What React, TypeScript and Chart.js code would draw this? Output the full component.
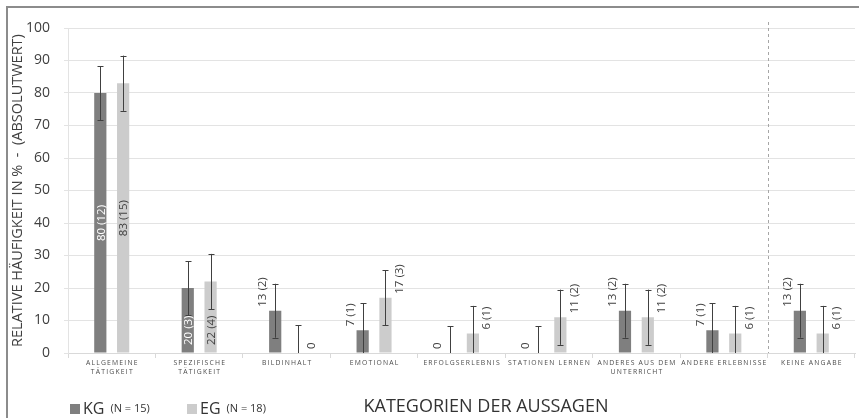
import React, { useEffect, useRef } from "react";
import { Chart, registerables } from "chart.js";

Chart.register(...registerables);

// Categories of the statements (multi-line labels as arrays)
const categories: string[][] = [
  ["ALLGEMEINE", "TÄTIGKEIT"],
  ["SPEZIFISCHE", "TÄTIGKEIT"],
  ["BILDINHALT"],
  ["EMOTIONAL"],
  ["ERFOLGSERLEBNIS"],
  ["STATIONEN LERNEN"],
  ["ANDERES AUS DEM", "UNTERRICHT"],
  ["ANDERE ERLEBNISSE"],
  ["KEINE ANGABE"],
];

// Relative frequency in % per group
const kgPercent = [80, 20, 13, 7, 0, 0, 13, 7, 13];
const egPercent = [83, 22, 0, 17, 6, 11, 11, 6, 6];

// Absolute counts per group
const kgCounts = [12, 3, 2, 1, 0, 0, 2, 1, 2];
const egCounts = [15, 4, 0, 3, 1, 2, 2, 1, 1];

// Standard error per bar
const kgError = [8.3, 8.3, 8.3, 8.3, 8.3, 8.3, 8.3, 8.3, 8.3];
const egError = [8.5, 8.5, 8.5, 8.5, 8.5, 8.5, 8.5, 8.5, 8.5];

const groupNames = ["KG", "EG"];
const groupSizes = ["(N = 15)", "(N = 18)"];

const yTicks = [0, 10, 20, 30, 40, 50, 60, 70, 80, 90, 100];

const KG_COLOR = "#7f7f7f";
const EG_COLOR = "#cccccc";
const TEXT = "#404040";
const FONT = "'Open Sans', 'Liberation Sans', sans-serif";

const overlayPlugin = {
  id: "overlay",
  afterDatasetsDraw(chart: any) {
    const { ctx, chartArea, scales } = chart;
    const xs = scales.x;
    const ys = scales.y;
    const errors = [kgError, egError];
    const counts = [kgCounts, egCounts];
    const zero = ys.getPixelForValue(0);

    ctx.save();
    // separator before "keine Angabe"
    const sepX = (xs.getPixelForValue(7) + xs.getPixelForValue(8)) / 2;
    ctx.strokeStyle = "#a6a6a6";
    ctx.lineWidth = 1;
    ctx.setLineDash([3, 3]);
    ctx.beginPath();
    ctx.moveTo(Math.round(sepX) + 0.5, chartArea.top - 6);
    ctx.lineTo(Math.round(sepX) + 0.5, chartArea.bottom);
    ctx.stroke();
    ctx.setLineDash([]);

    chart.data.datasets.forEach((ds: any, di: number) => {
      const meta = chart.getDatasetMeta(di);
      meta.data.forEach((bar: any, i: number) => {
        const v = ds.data[i] as number;
        const e = errors[di][i];
        const cx = bar.x;
        const topPx = bar.y;

        // data label
        const n = counts[di][i];
        const label = n === 0 ? "0" : `${v} (${n})`;
        ctx.font = `11.5px ${FONT}`;
        ctx.textBaseline = "middle";
        if (v >= 20) {
          const h = zero - topPx;
          ctx.fillStyle = di === 0 ? "#ffffff" : TEXT;
          ctx.save();
          if (h > 150) {
            ctx.translate(cx, (zero + topPx) / 2);
            ctx.rotate(-Math.PI / 2);
            ctx.textAlign = "center";
            ctx.fillText(label, 0, 1);
          } else {
            ctx.translate(cx, zero - 8);
            ctx.rotate(-Math.PI / 2);
            ctx.textAlign = "left";
            ctx.fillText(label, 0, 1);
          }
          ctx.restore();
        } else {
          ctx.fillStyle = TEXT;
          ctx.save();
          ctx.translate(cx + (di === 0 ? -13 : 13), topPx - 4);
          ctx.rotate(-Math.PI / 2);
          ctx.textAlign = "left";
          ctx.fillText(label, 0, 1);
          ctx.restore();
        }

        // error bar
        const hi = ys.getPixelForValue(v + e);
        const lo = ys.getPixelForValue(Math.max(0, v - e));
        const x = Math.round(cx) + 0.5;
        ctx.strokeStyle = "#404040";
        ctx.lineWidth = 1;
        ctx.beginPath();
        ctx.moveTo(x, hi);
        ctx.lineTo(x, lo);
        ctx.moveTo(x - 3, Math.round(hi) + 0.5);
        ctx.lineTo(x + 3, Math.round(hi) + 0.5);
        if (v - e > 0) {
          ctx.moveTo(x - 3, Math.round(lo) + 0.5);
          ctx.lineTo(x + 3, Math.round(lo) + 0.5);
        }
        ctx.stroke();
      });
    });

    // category labels with letter spacing
    ctx.fillStyle = "#4d4d4d";
    ctx.font = `6.8px ${FONT}`;
    ctx.textAlign = "center";
    ctx.textBaseline = "middle";
    if ("letterSpacing" in ctx) (ctx as any).letterSpacing = "1.2px";
    categories.forEach((lines, i) => {
      const cx = xs.getPixelForValue(i);
      lines.forEach((line, li) => {
        ctx.fillText(line, cx + 0.6, 363 + li * 9.5);
      });
    });
    if ("letterSpacing" in ctx) (ctx as any).letterSpacing = "0px";

    // axis title below
    ctx.fillStyle = "#333333";
    ctx.font = `18px ${FONT}`;
    ctx.textAlign = "center";
    ctx.fillText("KATEGORIEN DER AUSSAGEN", 486, 407);

    // legend
    const legendX = [70, 187];
    [KG_COLOR, EG_COLOR].forEach((c, gi) => {
      const lx = legendX[gi];
      ctx.fillStyle = c;
      ctx.fillRect(lx, 404, 10, 10);
      ctx.fillStyle = "#333333";
      ctx.textAlign = "left";
      ctx.font = `16px ${FONT}`;
      ctx.fillText(groupNames[gi], lx + 13, 409);
      const w = ctx.measureText(groupNames[gi]).width;
      ctx.font = `11px ${FONT}`;
      ctx.fillText(groupSizes[gi], lx + 13 + w + 6, 409);
    });

    // frame (top and left edge)
    ctx.strokeStyle = "#8c8c8c";
    ctx.lineWidth = 2;
    ctx.beginPath();
    ctx.moveTo(7, 418);
    ctx.lineTo(7, 7);
    ctx.lineTo(859, 7);
    ctx.stroke();
    ctx.restore();
  },
};

export default function App() {
  const canvasRef = useRef<HTMLCanvasElement | null>(null);

  useEffect(() => {
    const canvas = canvasRef.current;
    if (!canvas) return;
    const chart = new Chart(canvas, {
      type: "bar",
      data: {
        labels: categories.map((c) => c.join(" ")),
        datasets: [
          {
            label: groupNames[0],
            data: kgPercent,
            backgroundColor: KG_COLOR,
            categoryPercentage: 0.522,
            barPercentage: 0.535,
          },
          {
            label: groupNames[1],
            data: egPercent,
            backgroundColor: EG_COLOR,
            categoryPercentage: 0.522,
            barPercentage: 0.535,
          },
        ],
      },
      options: {
        responsive: false,
        animation: false,
        devicePixelRatio: 1,
        layout: { padding: { top: 28, right: 4, left: 0, bottom: 0 } },
        plugins: {
          legend: { display: false },
          tooltip: { enabled: false },
        },
        scales: {
          x: {
            ticks: { display: false },
            grid: {
              offset: true,
              drawOnChartArea: false,
              color: "#d9d9d9",
              tickLength: 5,
            },
            border: { color: "#d9d9d9" },
            afterFit: (s: any) => {
              s.height = 65;
            },
          },
          y: {
            min: 0,
            max: 100,
            afterBuildTicks: (s: any) => {
              s.ticks = yTicks.map((v) => ({ value: v }));
            },
            ticks: {
              padding: 14,
              color: TEXT,
              font: { family: FONT, size: 14 },
            },
            grid: { color: "#e3e3e3", tickLength: 4 },
            border: { color: "#e3e3e3" },
            title: {
              display: true,
              text: "RELATIVE HÄUFIGKEIT IN %  -  (ABSOLUTWERT)",
              color: TEXT,
              font: { family: FONT, size: 14.5 },
              padding: { top: 9, bottom: 0 },
            },
            afterFit: (s: any) => {
              s.width = 68;
            },
          },
        },
      },
      plugins: [overlayPlugin],
    });
    return () => chart.destroy();
  }, []);

  return (
    <div style={{ position: "absolute", left: 0, top: 0, width: 859, height: 418, background: "#ffffff" }}>
      <canvas ref={canvasRef} width={859} height={418} />
    </div>
  );
}
